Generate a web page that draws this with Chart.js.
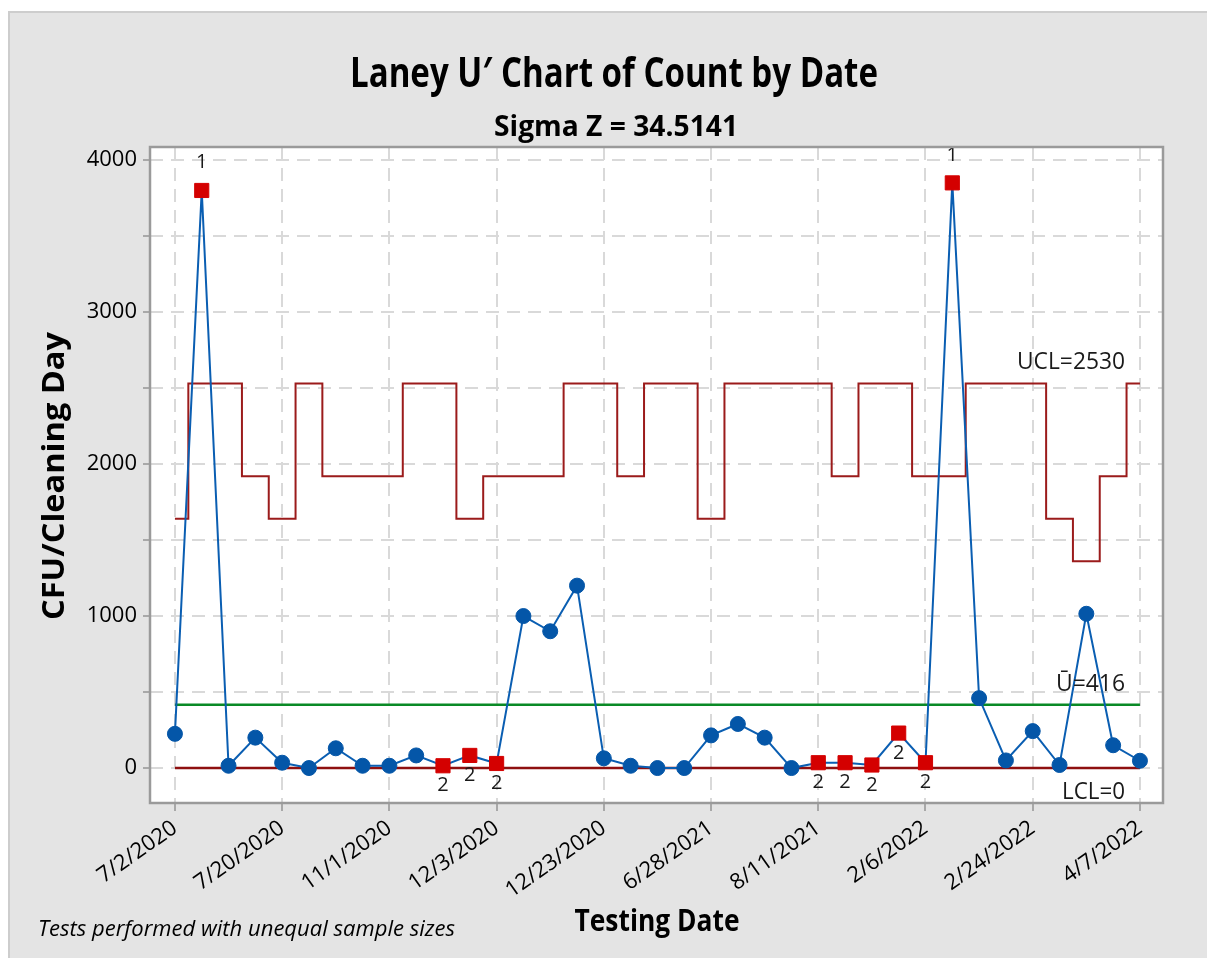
<!DOCTYPE html>
<html>
<head>
<meta charset="utf-8">
<script src="https://cdn.jsdelivr.net/npm/chart.js@4"></script>
<style>
  body { margin: 0; background: #fff; }
  #panel {
    position: absolute; left: 8px; top: 11px;
    width: 1199px; height: 947px;
    background: #e4e4e4;
    box-shadow: inset 2px 2px 0 #cdcdcd;
  }
  canvas { display: block; }
</style>
</head>
<body>
<div id="panel"><canvas id="chart" width="1199" height="947"></canvas></div>
<script>
// Laney U' chart

// tick labels on the x axis, one every 4 samples
const tickLabels = ['7/2/2020', '7/20/2020', '11/1/2020', '12/3/2020', '12/23/2020',
                    '6/28/2021', '8/11/2021', '2/6/2022', '2/24/2022', '4/7/2022'];
const tickEvery = 4;

// CFU per cleaning day, one per sample
const counts = [225, 3800, 15, 200, 35, 0, 130, 15, 15, 83, 15, 83, 30, 1000, 900, 1200,
                64, 15, 0, 0, 215, 290, 200, 0, 35, 35, 20, 230, 35, 3850, 460, 50, 243,
                20, 1015, 150, 48];

// upper control limit per sample (unequal sample sizes)
const ucl = [1640, 2530, 2530, 1920, 1640, 2530, 1920, 1920, 1920, 2530, 2530, 1640, 1920,
             1920, 1920, 2530, 2530, 1920, 2530, 2530, 1640, 2530, 2530, 2530, 2530, 1920,
             2530, 2530, 1920, 1920, 2530, 2530, 2530, 1640, 1360, 1920, 2530];

const uBar = 416;
const lcl = 0;
const uclLabel = 2530;

// failed tests: '' = none, '1' = beyond limit, '2' = 9 points on one side
const tests = ['', '1', '', '', '', '', '', '', '', '', '2', '2', '2', '', '', '', '', '', '',
               '', '', '', '', '', '2', '2', '2', '2', '2', '1', '', '', '', '', '', '', ''];

const yTicks = [0, 500, 1000, 1500, 2000, 2500, 3000, 3500, 4000];

const FONT = '"Open Sans", "Noto Sans", sans-serif';
const BLUE = '#0456a8';
const RED = '#d40000';
const DARKRED = '#9b1b1b';
const GREEN = '#0a8a26';

const idx = counts.map((_, i) => i);
const xy = arr => arr.map((v, i) => ({ x: i, y: v }));
const flat = v => idx.map(i => ({ x: i, y: v }));

// draws text squeezed to a given width (the original font is condensed)
function fitText(ctx, text, x, y, font, width, align) {
    ctx.font = font;
    const w = ctx.measureText(text).width;
    ctx.save();
    ctx.translate(x, y);
    ctx.scale(width / w, 1);
    ctx.textAlign = align || 'center';
    ctx.textBaseline = 'middle';
    ctx.fillText(text, 0, 0);
    ctx.restore();
}

const decorations = {
    id: 'decorations',
    beforeDraw(chart) {
        const { ctx, chartArea: a } = chart;
        ctx.save();
        ctx.fillStyle = '#fff';
        ctx.fillRect(a.left, a.top, a.right - a.left, a.bottom - a.top);
        ctx.restore();
    },
    afterDatasetsDraw(chart) {
        const { ctx, chartArea: a, scales } = chart;
        const y = scales.y;
        const pts = chart.getDatasetMeta(0).data;

        ctx.save();
        ctx.fillStyle = '#1a1a1a';
        ctx.font = '20px ' + FONT;
        ctx.textAlign = 'center';
        ctx.textBaseline = 'middle';
        tests.forEach((t, i) => {
            if (!t) return;
            const p = pts[i];
            ctx.fillText(t, p.x, t === '1' ? p.y - 28 : p.y + 20);
        });

        // control limit labels
        const rx = a.right - 38;
        fitText(ctx, 'UCL=' + uclLabel, rx, y.getPixelForValue(uclLabel) - 21, '23px ' + FONT, 108, 'right');
        fitText(ctx, '\u016A=' + uBar, rx, y.getPixelForValue(uBar) - 20, '23px ' + FONT, 69, 'right');
        fitText(ctx, 'LCL=' + lcl, rx, y.getPixelForValue(lcl) + 24, '23px ' + FONT, 63, 'right');

        // frame
        ctx.strokeStyle = '#9a9a9a';
        ctx.lineWidth = 2.5;
        ctx.strokeRect(a.left, a.top, a.right - a.left, a.bottom - a.top);
        ctx.restore();
    },
    afterDraw(chart) {
        const { ctx } = chart;
        ctx.save();
        ctx.fillStyle = '#000';
        fitText(ctx, 'Laney U\u2032 Chart of Count by Date', 606, 64, 'bold 42px ' + FONT, 528);
        fitText(ctx, 'Sigma Z = 34.5141', 608, 117, 'bold 28px ' + FONT, 244);
        fitText(ctx, 'Testing Date', 649, 911, 'bold 30px ' + FONT, 165);
        ctx.save();
        ctx.translate(47, 465);
        ctx.rotate(-Math.PI / 2);
        fitText(ctx, 'CFU/Cleaning Day', 0, 0, 'bold 30px ' + FONT, 288);
        ctx.restore();
        fitText(ctx, 'Tests performed with unequal sample sizes', 30, 919, 'italic 21px ' + FONT, 417, 'left');
        ctx.restore();
    }
};

new Chart(document.getElementById('chart'), {
    type: 'line',
    data: {
        datasets: [
            {
                label: 'Count',
                data: xy(counts),
                borderColor: '#0a5eb2',
                borderWidth: 2,
                pointStyle: c => tests[c.dataIndex] ? 'rect' : 'circle',
                pointRadius: c => tests[c.dataIndex] ? 10 : 7.5,
                pointBackgroundColor: c => tests[c.dataIndex] ? RED : BLUE,
                pointBorderColor: c => tests[c.dataIndex] ? RED : BLUE,
                pointBorderWidth: 1,
                order: 0
            },
            {
                label: 'UCL',
                data: xy(ucl),
                stepped: 'middle',
                borderColor: DARKRED,
                borderWidth: 2,
                pointRadius: 0,
                order: 1
            },
            {
                label: 'U bar',
                data: flat(uBar),
                borderColor: GREEN,
                borderWidth: 2.5,
                pointRadius: 0,
                order: 2
            },
            {
                label: 'LCL',
                data: flat(lcl),
                borderColor: '#8e1010',
                borderWidth: 2.5,
                pointRadius: 0,
                order: 3
            }
        ]
    },
    options: {
        responsive: false,
        animation: false,
        layout: { padding: { top: 136, right: 44, left: 0, bottom: 0 } },
        plugins: {
            legend: { display: false },
            tooltip: { enabled: false }
        },
        scales: {
            x: {
                type: 'linear',
                min: -0.93,
                max: 36.86,
                afterBuildTicks: s => { s.ticks = tickLabels.map((_, k) => ({ value: k * tickEvery })); },
                afterFit: s => { s.height = 155; },
                ticks: {
                    callback: v => tickLabels[v / tickEvery],
                    minRotation: 35,
                    maxRotation: 35,
                    padding: 4,
                    color: '#000',
                    font: { family: FONT, size: 22, weight: '500' }
                },
                grid: { color: '#d9d9d9', lineWidth: 2, tickLength: 8, tickColor: '#a8a8a8', tickWidth: 2 },
                border: { display: false, dash: [13, 8] }
            },
            y: {
                min: -230,
                max: 4086,
                afterBuildTicks: s => { s.ticks = yTicks.map(v => ({ value: v })); },
                afterFit: s => { s.width = 142; },
                ticks: {
                    callback: v => v % 1000 === 0 ? v : '',
                    padding: 6,
                    color: '#000',
                    font: { family: FONT, size: 22 }
                },
                grid: { color: '#d9d9d9', lineWidth: 2, tickLength: 7, tickColor: '#a8a8a8', tickWidth: 2 },
                border: { display: false, dash: [13, 8] }
            }
        }
    },
    plugins: [decorations]
});
</script>
</body>
</html>
